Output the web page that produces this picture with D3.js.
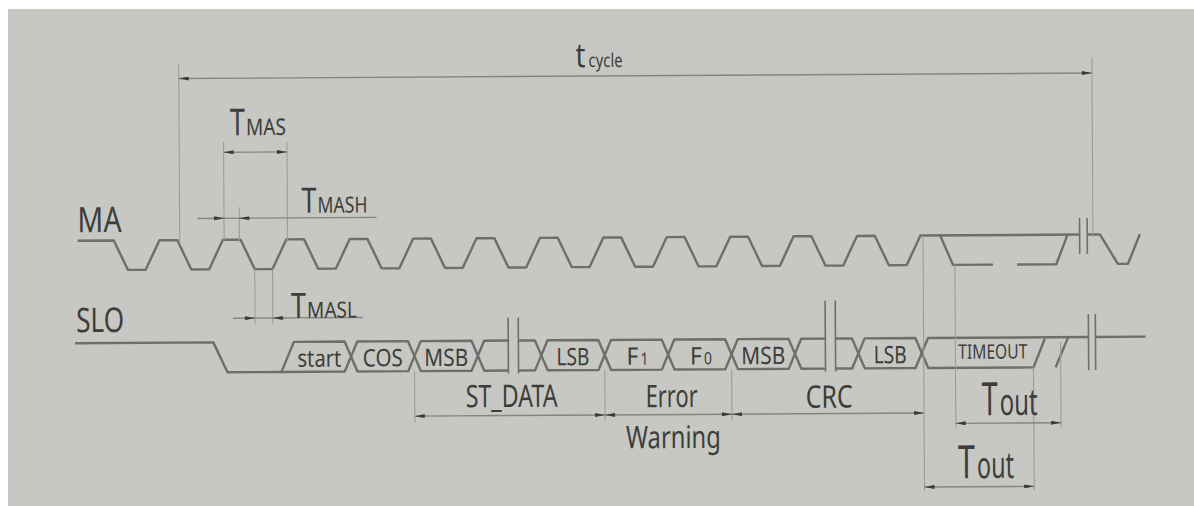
<!DOCTYPE html>
<html>
<head>
<meta charset="utf-8">
<script src="https://cdn.jsdelivr.net/npm/d3@7"></script>
<style>
  html, body { margin: 0; padding: 0; background: #fff; }
  svg { display: block; }
  text { font-family: "Noto Sans", "Open Sans", sans-serif; fill: #3d3e3b; }
</style>
</head>
<body>
<div id="chart"></div>
<script>
// time is measured in MA clock periods, trough k of MA sits at t = k
const maTroughs = [0, 1, 2, 3, 4, 5, 6, 7, 8, 9, 10, 11, 12];
const maHead = [[-0.93, 1]];
const maBreak = [14.87, 14.99];
const maTail = [[15.0, 1], [15.19, 1], [15.47, 0], [15.63, 0], [15.82, 1]];
const maIdleA = [[12.67, 1], [12.87, 0], [13.5, 0]];
const maIdleB = [[13.88, 0], [14.5, 0], [14.68, 1]];

// SLO: idle high, start bit low, then data cells
const sloHead = [[-0.98, 1], [1.2, 1], [1.42, 0], [2.27, 0]];
const sloCells = [
  { label: "start", t0: 2.37, t1: 3.37, first: true },
  { label: "COS", t0: 3.37, t1: 4.37 },
  { label: "MSB", t0: 4.37, t1: 5.37 },
  { label: "LSB", t0: 6.37, t1: 7.37 },
  { label: "F", sub: "1", t0: 7.37, t1: 8.37 },
  { label: "F", sub: "0", t0: 8.37, t1: 9.37 },
  { label: "MSB", t0: 9.37, t1: 10.37 },
  { label: "LSB", t0: 11.37, t1: 12.37 }
];
const sloOpenRight = [[5.37, 5.85], [10.37, 10.85]];
const sloOpenLeft = [[6.01, 6.37], [11.01, 11.37]];
const sloTimeout = { t0: 12.37, low: 14.13, high: 14.32, rise2: [14.48, 14.68], brk: [15.0, 15.11], end: 15.9 };
const sloBreaks = [[5.85, 6.01], [10.85, 11.01]];

// groups under SLO
const groups = [
  { label: "ST_DATA", t0: 4.37, t1: 7.37 },
  { label: "Error", t0: 7.37, t1: 9.37 },
  { label: "CRC", t0: 9.37, t1: 12.4 }
];

// timing marks
const tCycle = [0.68, 15.08];
const tMas = [1.38, 2.38];
const tMash = [1.38, 1.62];
const tMasl = [1.86, 2.14];
const tOutA = [12.9, 14.56];
const tOutB = [12.4, 14.13];

const W = 1194, H = 506;
const svg = d3.select("#chart").append("svg").attr("width", W).attr("height", H);
svg.append("rect").attr("width", W).attr("height", H).attr("fill", "#fff");
svg.append("rect").attr("x", 8).attr("y", 9).attr("width", W - 8).attr("height", H - 9).attr("fill", "#c7c8c3");

const defs = svg.append("defs");
defs.append("marker").attr("id", "arr")
  .attr("viewBox", "0 0 10 4").attr("refX", 10).attr("refY", 2)
  .attr("markerWidth", 11).attr("markerHeight", 4).attr("markerUnits", "userSpaceOnUse")
  .attr("orient", "auto-start-reverse")
  .append("path").attr("d", "M0,0L10,2L0,4z").attr("fill", "#3a3b38");

// the photo is slightly tilted
const g = svg.append("g").attr("transform", "rotate(-0.35,600,300)");

const x = d3.scaleLinear().domain([0, 12]).range([137, 898]);
const yMA = d3.scaleLinear().domain([0, 1]).range([267, 237.5]);
const ySLO = d3.scaleLinear().domain([0, 1]).range([370, 340]);
const sMid = (ySLO(0) + ySLO(1)) / 2;
const sTop = ySLO(1), sBot = ySLO(0);
const h = 0.1;

const waveColor = "#6e6f6b";
const dimColor = "#858682";
const extColor = "#9c9d98";

function wave(d) {
  return g.append("path").attr("d", d).attr("fill", "none")
    .attr("stroke", waveColor).attr("stroke-width", 2.4).attr("stroke-linejoin", "round");
}
function ext(t, y0, y1) {
  g.append("line").attr("x1", x(t)).attr("x2", x(t)).attr("y1", y0).attr("y2", y1)
    .attr("stroke", extColor).attr("stroke-width", 1.1);
}
function dim(xa, xb, y, arrows) {
  const l = g.append("line").attr("x1", xa).attr("x2", xb).attr("y1", y).attr("y2", y)
    .attr("stroke", dimColor).attr("stroke-width", 1.4);
  if (arrows) l.attr("marker-start", "url(#arr)").attr("marker-end", "url(#arr)");
}
function tip(xt, y, dir) {
  g.append("line").attr("x1", xt - dir * 12).attr("x2", xt).attr("y1", y).attr("y2", y)
    .attr("stroke", dimColor).attr("stroke-width", 1.4).attr("marker-end", "url(#arr)");
}
function label(txt, x0, base, w, size) {
  return g.append("text").attr("x", x0).attr("y", base).attr("font-size", size)
    .attr("textLength", w).attr("lengthAdjust", "spacingAndGlyphs").text(txt);
}
// one text made of parts: [string, x, width, font size]
function multi(parts, base) {
  const t = g.append("text").attr("y", base);
  parts.forEach(([s, x0, w, size]) => t.append("tspan").attr("x", x0).attr("font-size", size)
    .attr("textLength", w).attr("lengthAdjust", "spacingAndGlyphs").text(s));
  return t;
}

// ---- MA ----
const lineMA = d3.line().x(d => x(d[0])).y(d => yMA(d[1]));
const maPts = maHead.slice();
maTroughs.forEach(k => maPts.push([k - 0.36, 1], [k - 0.14, 0], [k + 0.14, 0], [k + 0.36, 1]));
maPts.push([maBreak[0], 1]);
wave(lineMA(maPts));
wave(lineMA(maTail));
wave(lineMA(maIdleA));
wave(lineMA(maIdleB));
maBreak.forEach(t => g.append("line").attr("x1", x(t)).attr("x2", x(t)).attr("y1", 221).attr("y2", 257)
  .attr("stroke", waveColor).attr("stroke-width", 1.6));

// ---- SLO ----
const lineSLO = d3.line().x(d => x(d[0])).y(d => ySLO(d[1]));
wave(lineSLO(sloHead));
sloCells.forEach(c => {
  let d;
  if (c.first) {
    d = `M${x(c.t0 - h)},${sBot}L${x(c.t0 + h)},${sTop}L${x(c.t1 - h)},${sTop}L${x(c.t1)},${sMid}L${x(c.t1 - h)},${sBot}Z`;
  } else {
    d = `M${x(c.t0)},${sMid}L${x(c.t0 + h)},${sTop}L${x(c.t1 - h)},${sTop}L${x(c.t1)},${sMid}L${x(c.t1 - h)},${sBot}L${x(c.t0 + h)},${sBot}Z`;
  }
  wave(d);
  const cx = x((c.t0 + c.t1) / 2);
  if (c.sub) {
    multi([[c.label, cx - 10, 12, 24], [c.sub, cx + 4, 8, 17]], 365);
  } else {
    const w = c.label === "start" ? 44 : (c.label === "COS" ? 40 : (c.label === "MSB" ? 44 : 33));
    label(c.label, cx - w / 2, 365, w, 24);
  }
});
sloOpenRight.forEach(([a, b]) => wave(`M${x(b)},${sTop}L${x(a + h)},${sTop}L${x(a)},${sMid}L${x(a + h)},${sBot}L${x(b)},${sBot}`));
sloOpenLeft.forEach(([a, b]) => wave(`M${x(a)},${sTop}L${x(b - h)},${sTop}L${x(b)},${sMid}L${x(b - h)},${sBot}L${x(a)},${sBot}`));
const to = sloTimeout;
wave(`M${x(to.brk[0])},${sTop}L${x(to.t0 + h)},${sTop}L${x(to.t0)},${sMid}L${x(to.t0 + h)},${sBot}L${x(to.low)},${sBot}L${x(to.high)},${sTop}`);
wave(`M${x(to.rise2[0])},${sBot}L${x(to.rise2[1])},${sTop}`);
wave(`M${x(to.brk[1])},${sTop}L${x(to.end)},${sTop}`);
label("TIMEOUT", 958, 361, 69, 20);

sloBreaks.concat([to.brk]).forEach(([a, b], i) => [a, b].forEach(t =>
  g.append("line").attr("x1", x(t)).attr("x2", x(t)).attr("y1", i === 1 ? 302 : 317).attr("y2", 373)
    .attr("stroke", waveColor).attr("stroke-width", 1.6)));

// ---- signal names ----
label("MA", 78, 229, 44, 35);
label("SLO", 76, 329, 48, 34);

// ---- t cycle ----
ext(tCycle[0], 62, yMA(1) + 2);
ext(tCycle[1], 60, yMA(1) + 2);
dim(x(tCycle[0]), x(tCycle[1]), 76, true);
multi([["t", 577, 10, 34], ["cycle", 590, 34, 19]], 67);

// ---- TMAS ----
ext(tMas[0], 140, yMA(1) + 2);
ext(tMas[1], 140, yMA(1) + 2);
dim(x(tMas[0]), x(tMas[1]), 150, true);
multi([["T", 231, 15, 37], ["MAS", 247, 40, 23]], 133);

// ---- TMASH ----
ext(tMash[1], 205, yMA(1) + 2);
dim(198, 377, 216, false);
tip(x(tMash[0]), 216, 1);
tip(x(tMash[1]), 216, -1);
multi([["T", 302, 15, 35], ["MASH", 318, 50, 22]], 211);

// ---- TMASL ----
ext(tMasl[0], yMA(0), 322);
ext(tMasl[1], yMA(0), 322);
dim(233, 363, 316, false);
tip(x(tMasl[0]), 316, 1);
tip(x(tMasl[1]), 316, -1);
multi([["T", 291, 15, 35], ["MASL", 307, 50, 22]], 316);

// ---- groups ----
groups.forEach(gr => {
  if (gr.t1 < 12) ext(gr.t1, sBot, 421);
  dim(x(gr.t0), x(gr.t1), 415, true);
});
ext(groups[0].t0, sBot, 421);
label("ST_DATA", 465, 406.5, 92, 31);
label("Error", 645, 407.5, 52, 31);
label("Warning", 625, 448.5, 95, 31);
label("CRC", 805, 409, 47, 31);

// ---- Tout ----
ext(tOutB[0], yMA(1), 493);
ext(tOutB[1], sBot, 493);
dim(x(tOutB[0]), x(tOutB[1]), 489, true);
ext(tOutA[0], yMA(0), 430);
ext(tOutA[1], 345, 430);
dim(x(tOutA[0]), x(tOutA[1]), 425.5, true);
multi([["T", 981, 16, 46], ["out", 999, 38, 37]], 417.5);
multi([["T", 957, 17, 46], ["out", 976, 37, 37]], 480.5);
</script>
</body>
</html>
